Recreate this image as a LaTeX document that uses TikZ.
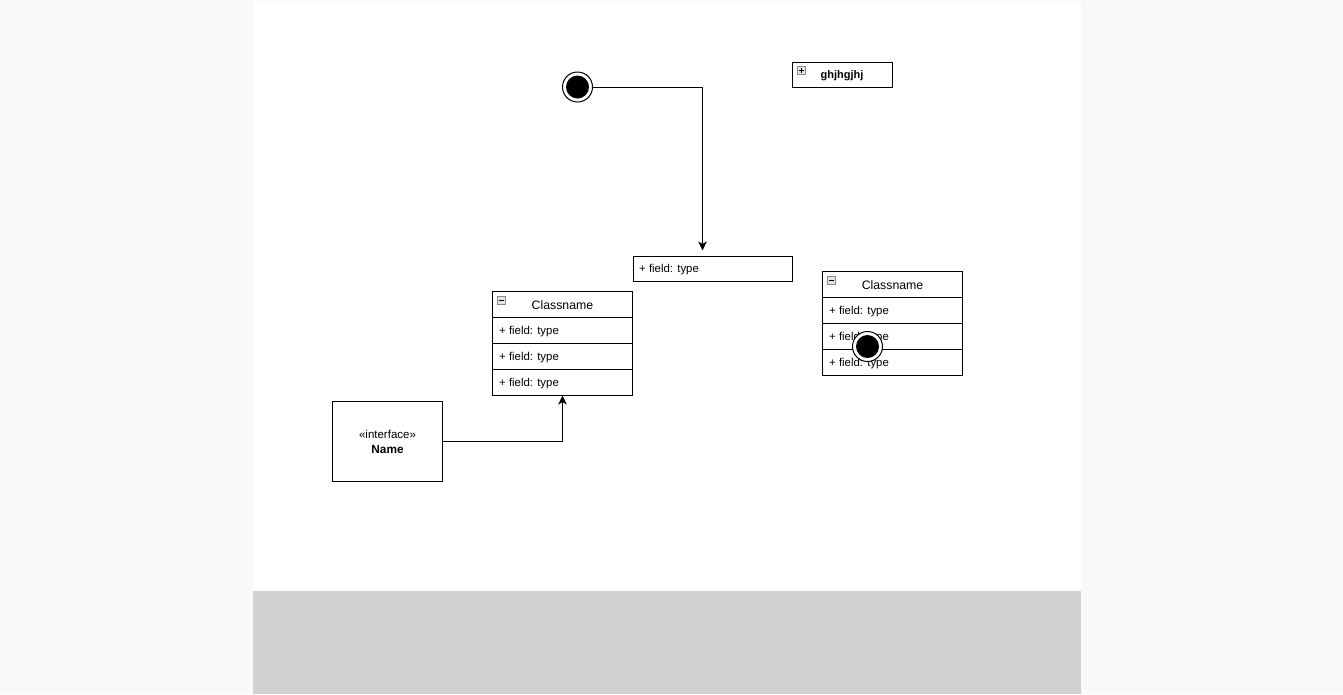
\documentclass[tikz,border=0pt]{standalone}
\usepackage{fontspec}
\setmainfont{Liberation Sans}
\usetikzlibrary{arrows.meta,calc}
\definecolor{pagebg}{HTML}{F8F9FA}
\definecolor{footgray}{HTML}{D0D0D0}
\definecolor{iconedge}{HTML}{8A8A8A}
\definecolor{iconfill}{HTML}{E4E4E4}
\tikzset{
  conn/.style={draw=black,line width=1pt},
  tip/.style={-{Stealth[length=9pt,width=8.5pt,inset=2.5pt]}},
  row/.style={draw=black,line width=1pt,rectangle,minimum width=140pt,minimum height=26pt,anchor=north west,inner sep=0pt,outer sep=0pt},
  fieldtxt/.style={anchor=west,inner sep=0pt,font=\fontsize{11.4}{13}\selectfont},
  headtxt/.style={inner sep=0pt,font=\fontsize{12.3}{14}\selectfont},
  icon/.style={draw=iconedge,fill=iconfill,line width=0.8pt,rectangle,minimum width=8pt,minimum height=8pt,inner sep=0pt,outer sep=0pt,anchor=north west},
  outerdot/.style={circle,draw=black,fill=white,line width=1pt,minimum size=30pt,inner sep=0pt},
  innerdot/.style={circle,fill=black,minimum size=23pt,inner sep=0pt},
  plainbox/.style={draw=black,line width=1pt,rectangle,anchor=north west,inner sep=0pt,outer sep=0pt},
}
\begin{document}
\begin{tikzpicture}[x=1pt,y=-1pt]
\useasboundingbox (0,0) rectangle (1343,694);
% background
\fill[pagebg] (0,0) rectangle (1343,694);
\fill[white] (253,1) rectangle (1081,591);
\fill[footgray] (253,591) rectangle (1081,694);

% top final state
\node[outerdot] (fs1) at (577.5,87) {};
\node[innerdot] at (fs1) {};

% ghjhgjhj package box
\node[plainbox,minimum width=100pt,minimum height=25pt] (pkg) at (792.5,62.5) {};
\node[icon] (pkgicon) at (797,66) {};
\draw[line width=0.8pt] ($(pkgicon.center)+(-2.5,0)$) -- ($(pkgicon.center)+(2.5,0)$);
\draw[line width=0.8pt] ($(pkgicon.center)+(0,-2.5)$) -- ($(pkgicon.center)+(0,2.5)$);
\node[inner sep=0pt,font=\fontsize{11}{13}\selectfont\bfseries] (pkgtxt) at (842,76) {ghjhgjhj};

% single field box
\node[row,minimum width=159pt,minimum height=25pt] (fbox) at (633.5,256.5) {};
\node[fieldtxt] (fboxtxt) at (639,270) {+ field: type};
\coordinate (fboxin) at ($(fbox.north west)+(69,0)$);

% class 1
\node[row] (c1h) at (492.5,291.5) {};
\node[row] (c1r1) at (492.5,317.5) {};
\node[row] (c1r2) at (492.5,343.5) {};
\node[row] (c1r3) at (492.5,369.5) {};
\node[icon] (c1icon) at (497.5,296) {};
\draw[line width=0.8pt] ($(c1icon.center)+(-2.5,0)$) -- ($(c1icon.center)+(2.5,0)$);
\node[headtxt] (c1ht) at (562.5,305.5) {Classname};
\node[fieldtxt] (c1t1) at (499,331.5) {+ field: type};
\node[fieldtxt] (c1t2) at (499,357.5) {+ field: type};
\node[fieldtxt] (c1t3) at (499,383.5) {+ field: type};

% class 2
\node[row] (c2h) at (822.5,271.5) {};
\node[row] (c2r1) at (822.5,297.5) {};
\node[row] (c2r2) at (822.5,323.5) {};
\node[row] (c2r3) at (822.5,349.5) {};
\node[icon] (c2icon) at (827.5,276) {};
\draw[line width=0.8pt] ($(c2icon.center)+(-2.5,0)$) -- ($(c2icon.center)+(2.5,0)$);
\node[headtxt] (c2ht) at (892.5,285.5) {Classname};
\node[fieldtxt] (c2t1) at (829,311.5) {+ field: type};
\node[fieldtxt] (c2t2) at (829,337.5) {+ field: type};
\node[fieldtxt] (c2t3) at (829,363.5) {+ field: type};

% second final state over class 2
\node[outerdot] (fs2) at (867.5,346.5) {};
\node[innerdot] at (fs2) {};

% interface
\node[plainbox,minimum width=110pt,minimum height=80pt] (iface) at (332.5,401.5) {};
\node[inner sep=0pt,font=\fontsize{11.5}{13}\selectfont] (ifst) at (387.5,434.5) {«interface»};
\node[inner sep=0pt,font=\fontsize{11.8}{13}\selectfont\bfseries] (ifname) at (387.5,449) {Name};

% connectors
\draw[conn,tip,shorten >=6pt] (fs1.east) -| (fboxin);
\draw[conn,tip] (iface.east) -| (c1r3.south);
\end{tikzpicture}
\end{document}
